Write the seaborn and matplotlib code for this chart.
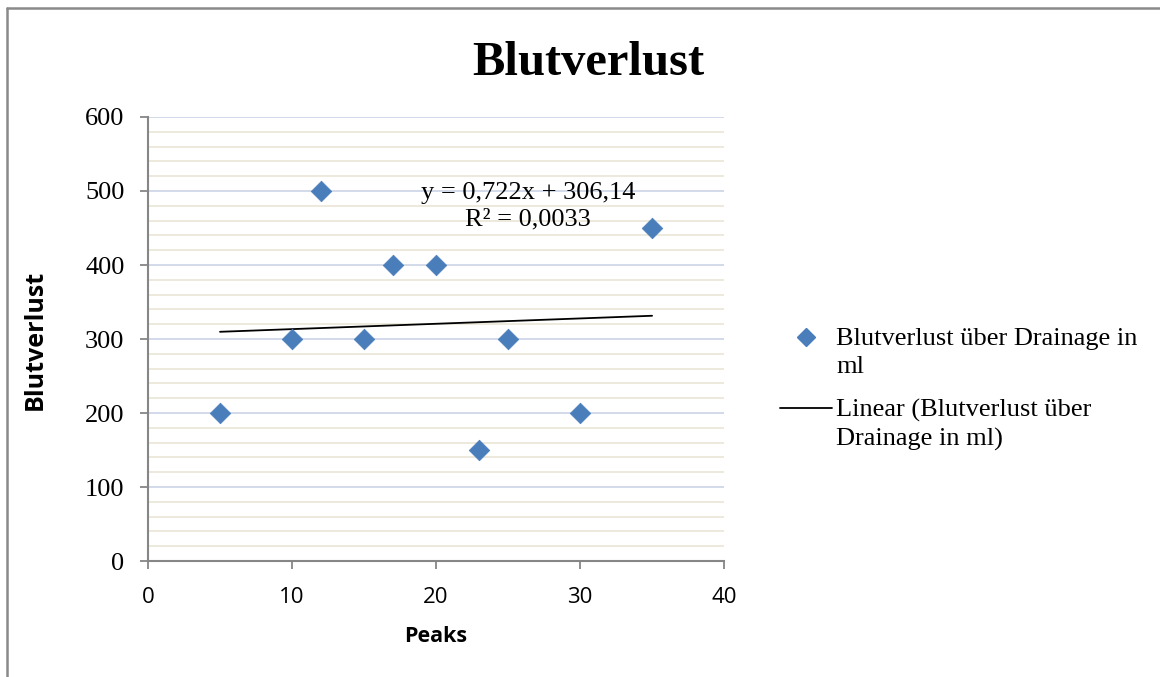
import matplotlib
matplotlib.use("Agg")
import matplotlib.pyplot as plt
from matplotlib.lines import Line2D
import numpy as np
import pandas as pd
import seaborn as sns

# Drainage data
peaks = [5, 10, 12, 15, 17, 20, 23, 25, 30, 35]
blood_loss = [200, 300, 500, 300, 400, 400, 150, 300, 200, 450]

title = "Blutverlust"
x_label = "Peaks"
y_label = "Blutverlust"
series_label = "Blutverlust über Drainage in\nml"
trend_label = "Linear (Blutverlust über\nDrainage in ml)"
x_ticks = [0, 10, 20, 30, 40]
y_ticks = [0, 100, 200, 300, 400, 500, 600]

df = pd.DataFrame({"Peaks": peaks, "Blutverlust": blood_loss})

sns.set_theme(style="white")
plt.rcParams["font.family"] = ["Liberation Serif", "DejaVu Serif"]
plt.rcParams["text.color"] = "black"
plt.rcParams["axes.labelcolor"] = "black"

point_color = "#4a7ebb"
sans = ["Open Sans", "DejaVu Sans"]

fig = plt.figure(figsize=(11.6, 6.77), dpi=100)
ax = fig.add_axes([0.1276, 0.1713, 0.4966, 0.6559])

# Gridlines: minor every 20, major every 100
ax.set_yticks(np.arange(0, 601, 20), minor=True)
ax.set_yticks(y_ticks)
ax.set_xticks(x_ticks)
ax.grid(which="minor", axis="y", color="#ece8da", linewidth=1.3)
ax.grid(which="major", axis="y", color="#cfd8e8", linewidth=1.3)
ax.set_axisbelow(True)

# Least-squares trend line
slope, intercept = np.polyfit(peaks, blood_loss, 1)
sns.regplot(data=df, x="Peaks", y="Blutverlust", scatter=False, ci=None,
            line_kws={"color": "black", "linewidth": 1.3}, ax=ax)

sns.scatterplot(data=df, x="Peaks", y="Blutverlust", marker="D", s=110,
                color=point_color, edgecolor=point_color, linewidth=0.5,
                ax=ax, zorder=3)

r2 = np.corrcoef(peaks, blood_loss)[0, 1] ** 2
eq = f"y = {slope:.3f}x + {intercept:.2f}".replace(".", ",")
r2s = f"R² = {r2:.4f}".replace(".", ",")
ax.text(26.4, 479, eq + "\n" + r2s, ha="center", va="center",
        fontsize=19, linespacing=1.25, color="black")

ax.set_xlim(0, 40)
ax.set_ylim(0, 600)

for side in ["top", "right"]:
    ax.spines[side].set_visible(False)
for side in ["left", "bottom"]:
    ax.spines[side].set_color("#868686")
    ax.spines[side].set_linewidth(1.5)

ax.tick_params(axis="both", which="major", direction="out", length=6,
               width=1.3, color="#868686", labelcolor="black",
               left=True, bottom=True)
ax.tick_params(axis="y", which="minor", left=False)
ax.tick_params(axis="y", labelsize=19, pad=11)
ax.tick_params(axis="x", labelsize=16, pad=13)
for lab in ax.get_xticklabels():
    lab.set_family(sans)

ax.set_xlabel(x_label, fontsize=15.5, fontweight="bold", family=sans)
ax.set_ylabel(y_label, fontsize=18, fontweight="bold", family=sans)
ax.xaxis.set_label_coords(0.5, -0.169)
ax.xaxis.label.set_va("center")
ax.yaxis.set_label_coords(-0.196, 0.497)
ax.yaxis.label.set_va("center")

fig.text(0.507, 0.907, title, ha="center", va="center", fontsize=35,
         fontweight="bold")

# Legend, drawn in figure pixels to the right of the plot area
def fx(px):
    return px / 1160


def fy(py):
    return 1 - py / 677


fig.add_artist(Line2D([fx(806)], [fy(337)], marker="D", linestyle="none",
                      color=point_color, markersize=9,
                      transform=fig.transFigure))
fig.add_artist(Line2D([fx(780), fx(832)], [fy(408), fy(408)], color="black",
                      linewidth=1.3, transform=fig.transFigure))
fig.text(fx(836), fy(328), series_label, ha="left", va="top", fontsize=19,
         linespacing=1.35)
fig.text(fx(836), fy(399), trend_label, ha="left", va="top", fontsize=19,
         linespacing=1.35)

# Outer chart border (top and left edges)
fig.add_artist(Line2D([0.0060, 0.0060], [0.0, 0.9875], color="#8a8a8a",
                      linewidth=1.8, transform=fig.transFigure))
fig.add_artist(Line2D([0.0060, 1.0], [0.9875, 0.9875], color="#8a8a8a",
                      linewidth=1.8, transform=fig.transFigure))

fig.savefig("out.png", dpi=100)
